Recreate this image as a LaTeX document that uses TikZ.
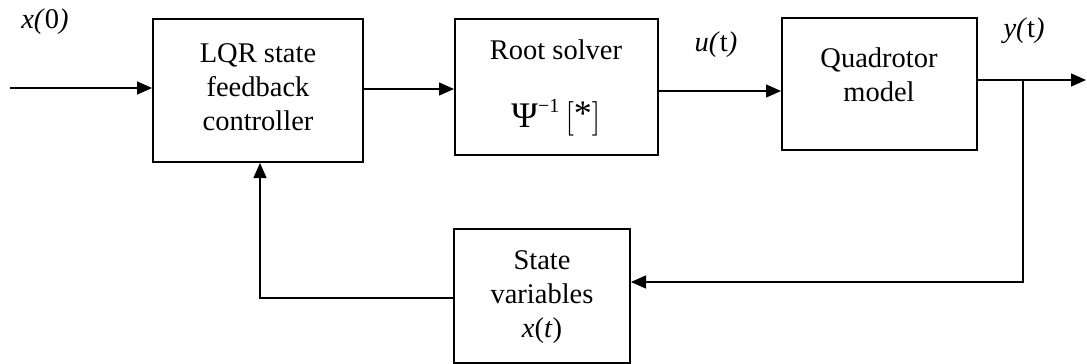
\documentclass[tikz,border=0pt]{standalone}
\usepackage{fontspec}
\setmainfont{Liberation Serif}
\usetikzlibrary{arrows.meta}
\begin{document}
\begin{tikzpicture}[x=0.5pt,y=-0.5pt,
  blk/.style={draw, line width=1pt, inner sep=0pt},
  txt/.style={align=center, inner sep=0pt, font=\fontsize{14.25}{17}\selectfont},
  sig/.style={inner sep=0pt, font=\fontsize{14.25}{17}\selectfont},
  wire/.style={line width=0.7pt},
  arr/.style={wire, -{Triangle[length=7.5pt,width=6.5pt]}}]
\useasboundingbox (0,0) rectangle (1087,364);

% blocks
\node[blk, minimum width=105pt, minimum height=71.5pt] (lqr)   at (258,90.5) {};
\node[blk, minimum width=101.5pt, minimum height=68pt] (root)  at (556.5,87) {};
\node[blk, minimum width=97.5pt, minimum height=66pt]  (quad)  at (879.5,84) {};
\node[blk, minimum width=88pt, minimum height=67pt]    (state) at (542,296) {};

% block texts
\node[txt] (lqrtxt) at (258,87) {LQR state\\feedback\\controller};
\node[txt] (roottxt) at (556,50) {Root solver};
\node[inner sep=0pt, font=\fontsize{18}{18}\selectfont] (psi) at (556,118)
  {Ψ\raisebox{0.9ex}{\fontsize{10}{10}\selectfont −1}\,$\bigl[$\raisebox{0.15ex}{*}$\bigr]$};
\node[txt] (quadtxt) at (879,75) {Quadrotor\\model};
\node[txt] (statetxt) at (542,297) {State\\variables\\\textit{x}(\textit{t})};

% signal labels
\node[sig] (x0) at (45,22) {\textit{x(}0\textit{)}};
\node[sig] (ut) at (716,45) {\textit{u(}t\textit{)}};
\node[sig] (yt) at (1024,31) {\textit{y(}t\textit{)}};

% connection points
\coordinate (in)  at (10,88);
\coordinate (out) at (1086,80);
\coordinate (br)  at (1023,80);
\coordinate (brd) at (1023,282);
\coordinate (fb)  at (260,298);

% forward path
\draw[arr] (in) -- (in -| lqr.west);
\draw[arr] (lqr.east |- 0,89) -- (root.west |- 0,89);
\draw[arr] (root.east |- 0,91) -- (quad.west |- 0,91);
\draw[arr] (quad.east |- out) -- (out);

% feedback path
\draw[arr] (br) -- (brd) -- (brd -| state.east);
\draw[arr] (state.west |- fb) -- (fb) -- (lqr.south -| fb);
\end{tikzpicture}
\end{document}
